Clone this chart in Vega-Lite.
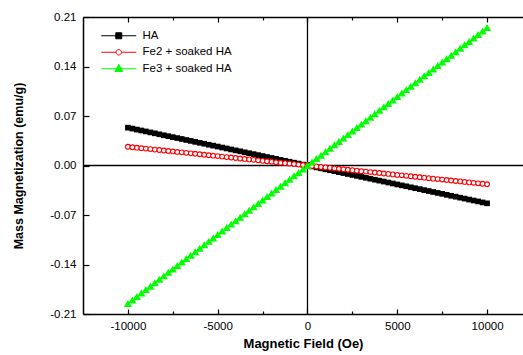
{
  "$schema": "https://vega.github.io/schema/vega-lite/v6.json",
  "width": 440,
  "height": 297,
  "autosize": {"type": "none"},
  "padding": {"left": 83, "top": 17, "right": 0, "bottom": 41},
  "background": "white",
  "config": {
    "view": {"stroke": null},
    "axis": {"labelFont": "Liberation Sans", "titleFont": "Liberation Sans", "labelColor": "black", "titleColor": "black", "domainColor": "black", "tickColor": "black", "grid": false, "domainWidth": 1.5, "tickWidth": 1.2},
    "legend": {"orient": "none", "legendX": 30, "legendY": 13, "padding": 0, "title": null, "symbolSize": 100, "labelOffset": 18, "rowPadding": 3.5, "labelFontSize": 11.5, "labelFont": "Liberation Sans", "labelColor": "black", "symbolStrokeWidth": 1}
  },
  "data": {"values": [
    {"x": -10000, "HA": 0.0535, "Fe2": 0.0265, "Fe3": -0.195},
    {"x": -9750, "HA": 0.0522, "Fe2": 0.0258, "Fe3": -0.1901},
    {"x": -9500, "HA": 0.0508, "Fe2": 0.0252, "Fe3": -0.1853},
    {"x": -9250, "HA": 0.0495, "Fe2": 0.0245, "Fe3": -0.1804},
    {"x": -9000, "HA": 0.0482, "Fe2": 0.0239, "Fe3": -0.1755},
    {"x": -8750, "HA": 0.0468, "Fe2": 0.0232, "Fe3": -0.1706},
    {"x": -8500, "HA": 0.0455, "Fe2": 0.0225, "Fe3": -0.1658},
    {"x": -8250, "HA": 0.0441, "Fe2": 0.0219, "Fe3": -0.1609},
    {"x": -8000, "HA": 0.0428, "Fe2": 0.0212, "Fe3": -0.156},
    {"x": -7750, "HA": 0.0415, "Fe2": 0.0205, "Fe3": -0.1511},
    {"x": -7500, "HA": 0.0401, "Fe2": 0.0199, "Fe3": -0.1463},
    {"x": -7250, "HA": 0.0388, "Fe2": 0.0192, "Fe3": -0.1414},
    {"x": -7000, "HA": 0.0375, "Fe2": 0.0186, "Fe3": -0.1365},
    {"x": -6750, "HA": 0.0361, "Fe2": 0.0179, "Fe3": -0.1316},
    {"x": -6500, "HA": 0.0348, "Fe2": 0.0172, "Fe3": -0.1268},
    {"x": -6250, "HA": 0.0334, "Fe2": 0.0166, "Fe3": -0.1219},
    {"x": -6000, "HA": 0.0321, "Fe2": 0.0159, "Fe3": -0.117},
    {"x": -5750, "HA": 0.0308, "Fe2": 0.0152, "Fe3": -0.1121},
    {"x": -5500, "HA": 0.0294, "Fe2": 0.0146, "Fe3": -0.1073},
    {"x": -5250, "HA": 0.0281, "Fe2": 0.0139, "Fe3": -0.1024},
    {"x": -5000, "HA": 0.0268, "Fe2": 0.0133, "Fe3": -0.0975},
    {"x": -4750, "HA": 0.0254, "Fe2": 0.0126, "Fe3": -0.0926},
    {"x": -4500, "HA": 0.0241, "Fe2": 0.0119, "Fe3": -0.0878},
    {"x": -4250, "HA": 0.0227, "Fe2": 0.0113, "Fe3": -0.0829},
    {"x": -4000, "HA": 0.0214, "Fe2": 0.0106, "Fe3": -0.078},
    {"x": -3750, "HA": 0.0201, "Fe2": 0.0099, "Fe3": -0.0731},
    {"x": -3500, "HA": 0.0187, "Fe2": 0.0093, "Fe3": -0.0683},
    {"x": -3250, "HA": 0.0174, "Fe2": 0.0086, "Fe3": -0.0634},
    {"x": -3000, "HA": 0.0161, "Fe2": 0.008, "Fe3": -0.0585},
    {"x": -2750, "HA": 0.0147, "Fe2": 0.0073, "Fe3": -0.0536},
    {"x": -2500, "HA": 0.0134, "Fe2": 0.0066, "Fe3": -0.0488},
    {"x": -2250, "HA": 0.012, "Fe2": 0.006, "Fe3": -0.0439},
    {"x": -2000, "HA": 0.0107, "Fe2": 0.0053, "Fe3": -0.039},
    {"x": -1750, "HA": 0.0094, "Fe2": 0.0046, "Fe3": -0.0341},
    {"x": -1500, "HA": 0.008, "Fe2": 0.004, "Fe3": -0.0293},
    {"x": -1250, "HA": 0.0067, "Fe2": 0.0033, "Fe3": -0.0244},
    {"x": -1000, "HA": 0.0054, "Fe2": 0.0027, "Fe3": -0.0195},
    {"x": -750, "HA": 0.004, "Fe2": 0.002, "Fe3": -0.0146},
    {"x": -500, "HA": 0.0027, "Fe2": 0.0013, "Fe3": -0.0098},
    {"x": -250, "HA": 0.0013, "Fe2": 0.0007, "Fe3": -0.0049},
    {"x": 0, "HA": 0, "Fe2": 0, "Fe3": 0},
    {"x": 250, "HA": -0.0013, "Fe2": -0.0007, "Fe3": 0.0049},
    {"x": 500, "HA": -0.0027, "Fe2": -0.0013, "Fe3": 0.0098},
    {"x": 750, "HA": -0.004, "Fe2": -0.002, "Fe3": 0.0146},
    {"x": 1000, "HA": -0.0054, "Fe2": -0.0027, "Fe3": 0.0195},
    {"x": 1250, "HA": -0.0067, "Fe2": -0.0033, "Fe3": 0.0244},
    {"x": 1500, "HA": -0.008, "Fe2": -0.004, "Fe3": 0.0293},
    {"x": 1750, "HA": -0.0094, "Fe2": -0.0046, "Fe3": 0.0341},
    {"x": 2000, "HA": -0.0107, "Fe2": -0.0053, "Fe3": 0.039},
    {"x": 2250, "HA": -0.012, "Fe2": -0.006, "Fe3": 0.0439},
    {"x": 2500, "HA": -0.0134, "Fe2": -0.0066, "Fe3": 0.0488},
    {"x": 2750, "HA": -0.0147, "Fe2": -0.0073, "Fe3": 0.0536},
    {"x": 3000, "HA": -0.0161, "Fe2": -0.008, "Fe3": 0.0585},
    {"x": 3250, "HA": -0.0174, "Fe2": -0.0086, "Fe3": 0.0634},
    {"x": 3500, "HA": -0.0187, "Fe2": -0.0093, "Fe3": 0.0683},
    {"x": 3750, "HA": -0.0201, "Fe2": -0.0099, "Fe3": 0.0731},
    {"x": 4000, "HA": -0.0214, "Fe2": -0.0106, "Fe3": 0.078},
    {"x": 4250, "HA": -0.0227, "Fe2": -0.0113, "Fe3": 0.0829},
    {"x": 4500, "HA": -0.0241, "Fe2": -0.0119, "Fe3": 0.0878},
    {"x": 4750, "HA": -0.0254, "Fe2": -0.0126, "Fe3": 0.0926},
    {"x": 5000, "HA": -0.0268, "Fe2": -0.0133, "Fe3": 0.0975},
    {"x": 5250, "HA": -0.0281, "Fe2": -0.0139, "Fe3": 0.1024},
    {"x": 5500, "HA": -0.0294, "Fe2": -0.0146, "Fe3": 0.1073},
    {"x": 5750, "HA": -0.0308, "Fe2": -0.0152, "Fe3": 0.1121},
    {"x": 6000, "HA": -0.0321, "Fe2": -0.0159, "Fe3": 0.117},
    {"x": 6250, "HA": -0.0334, "Fe2": -0.0166, "Fe3": 0.1219},
    {"x": 6500, "HA": -0.0348, "Fe2": -0.0172, "Fe3": 0.1268},
    {"x": 6750, "HA": -0.0361, "Fe2": -0.0179, "Fe3": 0.1316},
    {"x": 7000, "HA": -0.0375, "Fe2": -0.0186, "Fe3": 0.1365},
    {"x": 7250, "HA": -0.0388, "Fe2": -0.0192, "Fe3": 0.1414},
    {"x": 7500, "HA": -0.0401, "Fe2": -0.0199, "Fe3": 0.1463},
    {"x": 7750, "HA": -0.0415, "Fe2": -0.0205, "Fe3": 0.1511},
    {"x": 8000, "HA": -0.0428, "Fe2": -0.0212, "Fe3": 0.156},
    {"x": 8250, "HA": -0.0441, "Fe2": -0.0219, "Fe3": 0.1609},
    {"x": 8500, "HA": -0.0455, "Fe2": -0.0225, "Fe3": 0.1658},
    {"x": 8750, "HA": -0.0468, "Fe2": -0.0232, "Fe3": 0.1706},
    {"x": 9000, "HA": -0.0482, "Fe2": -0.0239, "Fe3": 0.1755},
    {"x": 9250, "HA": -0.0495, "Fe2": -0.0245, "Fe3": 0.1804},
    {"x": 9500, "HA": -0.0508, "Fe2": -0.0252, "Fe3": 0.1853},
    {"x": 9750, "HA": -0.0522, "Fe2": -0.0258, "Fe3": 0.1901},
    {"x": 10000, "HA": -0.0535, "Fe2": -0.0265, "Fe3": 0.195}
  ]},
  "transform": [{"fold": ["HA", "Fe2", "Fe3"], "as": ["s", "y"]}],
  "layer": [
    {
      "transform": [{"filter": "datum.x == 0"}],
      "mark": {"type": "point", "opacity": 1, "strokeWidth": 1, "size": 100},
      "encoding": {
        "x": {"field": "x", "type": "quantitative", "axis": null},
        "y": {"field": "y", "type": "quantitative"},
        "shape": {"field": "s", "type": "nominal",
          "scale": {"domain": ["HA", "Fe2", "Fe3"], "range": ["M-3.5,0H3.5M-0.6,-0.6H0.6V0.6H-0.6Z", "M-3.5,0H-0.55M0.55,0H3.5M0.55,0A0.55,0.55 0 1,1 -0.55,0A0.55,0.55 0 1,1 0.55,0Z", "M-3.5,0H3.5M0,-0.85L0.8,0.55H-0.8Z"]},
          "legend": {"labelExpr": "datum.label == 'HA' ? 'HA' : datum.label + ' + soaked HA'"}},
        "fill": {"field": "s", "type": "nominal", "scale": {"domain": ["HA", "Fe2", "Fe3"], "range": ["black", "white", "#00ff00"]},
          "legend": {"labelExpr": "datum.label == 'HA' ? 'HA' : datum.label + ' + soaked HA'"}},
        "stroke": {"field": "s", "type": "nominal", "scale": {"domain": ["HA", "Fe2", "Fe3"], "range": ["black", "red", "#00ff00"]},
          "legend": {"labelExpr": "datum.label == 'HA' ? 'HA' : datum.label + ' + soaked HA'"}}
      }
    },
    {
      "data": {"values": [{}]},
      "mark": {"type": "rule", "color": "black", "strokeWidth": 1.3},
      "encoding": {
        "x": {"datum": 0, "type": "quantitative", "scale": {"domain": [-12500, 12000], "nice": false, "zero": false},
          "axis": {"orient": "top", "title": null, "labels": false, "values": [-10000, -7500, -5000, -2500, 0, 2500, 5000, 7500, 10000],
            "tickSize": {"condition": {"test": "datum.value % 5000 == 0", "value": -5}, "value": -3}}}
      }
    },
    {
      "data": {"values": [{}]},
      "mark": {"type": "rule", "color": "black", "strokeWidth": 1.5},
      "encoding": {
        "y": {"datum": 0, "type": "quantitative", "scale": {"domain": [-0.21, 0.21], "nice": false, "zero": false},
          "axis": {"title": "Mass Magnetization (emu/g)", "titleFontSize": 12.5, "titleFontWeight": "bold", "titlePadding": 24,
            "values": [-0.21, -0.175, -0.14, -0.105, -0.07, -0.035, 0, 0.035, 0.07, 0.105, 0.14, 0.175, 0.21],
            "labelFontSize": 11.5, "labelPadding": 13,
            "labelExpr": "abs(datum.value*100/7 - round(datum.value*100/7)) < 0.01 ? (datum.value < -0.0001 ? '-' : '') + format(abs(datum.value), '.2f') : ''",
            "tickSize": {"condition": {"test": "abs(datum.value*100/7 - round(datum.value*100/7)) < 0.01", "value": -6}, "value": -3}}}
      }
    },
    {
      "mark": {"type": "line", "strokeWidth": 1},
      "encoding": {
        "x": {"field": "x", "type": "quantitative",
          "axis": {"orient": "bottom", "title": "Magnetic Field (Oe)", "titleFontSize": 13, "titleFontWeight": "bold", "titlePadding": 6,
            "values": [-10000, -7500, -5000, -2500, 0, 2500, 5000, 7500, 10000], "labelFontSize": 11.5, "labelPadding": 11,
            "labelExpr": "datum.value % 5000 == 0 ? '' + datum.value : ''",
            "tickSize": {"condition": {"test": "datum.value % 5000 == 0", "value": -5}, "value": -3}}},
        "y": {"field": "y", "type": "quantitative"},
        "color": {"field": "s", "type": "nominal", "scale": {"domain": ["HA", "Fe2", "Fe3"], "range": ["black", "red", "#00ff00"]}, "legend": null}
      }
    },
    {
      "transform": [{"filter": "datum.s == 'HA'"}],
      "mark": {"type": "point", "shape": "square", "filled": true, "color": "black", "size": 32, "opacity": 1},
      "encoding": {"x": {"field": "x", "type": "quantitative", "axis": null}, "y": {"field": "y", "type": "quantitative"}}
    },
    {
      "transform": [{"filter": "datum.s == 'Fe2'"}],
      "mark": {"type": "point", "shape": "circle", "fill": "white", "stroke": "red", "strokeWidth": 1.1, "size": 22, "opacity": 1},
      "encoding": {"x": {"field": "x", "type": "quantitative", "axis": null}, "y": {"field": "y", "type": "quantitative"}}
    },
    {
      "transform": [{"filter": "datum.s == 'Fe3'"}],
      "mark": {"type": "point", "shape": "triangle-up", "filled": true, "color": "#00ff00", "size": 65, "opacity": 1},
      "encoding": {"x": {"field": "x", "type": "quantitative", "axis": null}, "y": {"field": "y", "type": "quantitative"}}
    }
  ],
  "resolve": {"axis": {"x": "independent"}}
}
